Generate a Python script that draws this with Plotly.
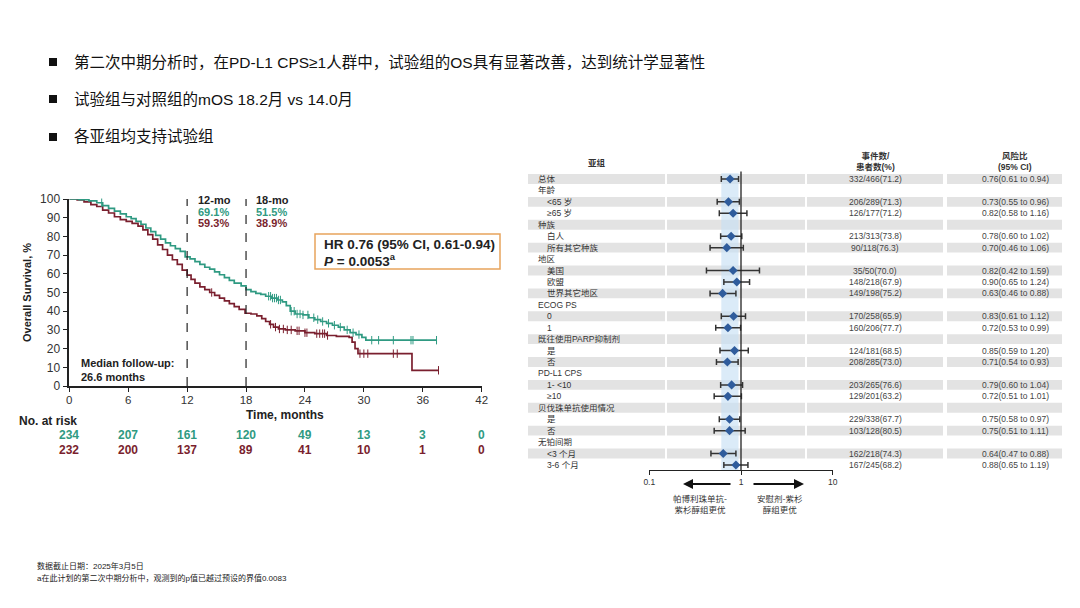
import numpy as np
import plotly.graph_objects as go

# page has an 8px body margin: figure is sized to fit the 1080x608 window exactly
OFF = 8
W, H = 1080 - 2 * OFF, 608 - 2 * OFF
def px(x): return (x - OFF) / W
def py(y): return 1 - (y - OFF) / H

# ---------------- KM data ----------------
green_t = [0, 1.0, 2.0, 2.8, 3.4, 4.0, 4.6, 5.2, 5.8, 6.3, 6.8, 7.3, 7.8, 8.3, 8.8, 9.3, 9.8, 10.3, 10.8, 11.3,
           11.8, 12.3, 12.8, 13.3, 13.8, 14.3, 14.8, 15.3, 15.8, 16.3, 16.8, 17.5, 18.0, 18.5, 19.0, 19.5, 20.0,
           20.6, 21.2, 21.7, 22.1, 22.5, 23.0, 23.8, 24.4, 25.0, 25.6, 26.2, 26.8, 27.4, 28.0, 28.6, 29.2, 29.8,
           30.2, 37.4]
green_s = [100, 99.6, 99, 98, 96.5, 95, 93.5, 92, 90.5, 89.5, 88, 86.5, 84.5, 82.5, 80.5, 78.5, 76.5, 75, 73.5, 72,
           69.1, 68, 66.5, 65, 63.5, 62.5, 61, 59.5, 58, 56.5, 55, 53.5, 51.5, 50.5, 49.5, 49, 48, 47, 46, 45, 43,
           40, 38.5, 38, 36.5, 35.5, 34.5, 33.5, 32.5, 31.5, 30, 28.5, 27.5, 26, 24.5, 24.5]
red_t = [0, 0.8, 1.5, 2.2, 2.8, 3.4, 4.0, 4.6, 5.2, 5.8, 6.4, 7.0, 7.5, 8.0, 8.5, 9.0, 9.5, 10.0, 10.5, 11.0, 11.5,
         12.0, 12.4, 12.8, 13.3, 13.8, 14.3, 14.8, 15.3, 15.8, 16.3, 16.8, 17.3, 17.9, 18.5, 19.1, 19.6, 20.0, 20.4,
         20.8, 21.3, 22.0, 23.0, 24.0, 25.0, 26.2, 27.2, 28.5, 28.8, 29.1, 29.4, 34.9, 37.6]
red_s = [100, 99.5, 98.5, 97, 96, 94, 92.5, 90.5, 89, 88, 87, 85.5, 83.5, 81, 78.5, 75.5, 73, 70, 67.5, 65, 62,
         59.3, 57, 55, 53, 51.5, 50, 48.5, 47, 45.5, 44, 42.5, 41, 38.9, 38.5, 37.5, 36, 34.5, 33, 31.5, 30.5, 30,
         29.5, 28.5, 28, 27, 26.5, 26, 23.5, 20, 17.3, 8.4, 8.4]
green_cens = [3.3, 20.3, 20.5, 20.7, 20.9, 21.1, 21.3, 21.5, 22.6, 22.9, 23.2, 23.5, 23.8, 24.3, 24.9, 25.3, 25.8,
              26.4, 27.0, 27.6, 28.3, 28.9, 29.5, 30.8, 31.5, 33.0, 34.8, 35.0, 37.4]
red_cens = [14.5, 20.5, 21.0, 21.4, 21.8, 22.2, 22.6, 23.2, 23.4, 24.0, 24.2, 25.2, 25.5, 25.8, 26.0, 26.3, 29.6,
            30.0, 30.4, 33.0, 33.4, 37.6]
risk_times = [0, 6, 12, 18, 24, 30, 36, 42]
risk_green = [234, 207, 161, 120, 49, 13, 3, 0]
risk_red = [232, 200, 137, 89, 41, 10, 1, 0]

# ---------------- Forest data ----------------
sub_labels = ["总体", "年龄", "<65 岁", "≥65 岁", "种族", "白人", "所有其它种族", "地区", "美国", "欧盟",
              "世界其它地区", "ECOG PS", "0", "1", "既往使用PARP抑制剂", "是", "否", "PD-L1 CPS", "1- <10", "≥10",
              "贝伐珠单抗使用情况", "是", "否", "无铂间期", "<3 个月", "3-6 个月"]
sub_indent = [0, 0, 1, 1, 0, 1, 1, 0, 1, 1, 1, 0, 1, 1, 0, 1, 1, 0, 1, 1, 0, 1, 1, 0, 1, 1]
hr = [0.76, None, 0.73, 0.82, None, 0.78, 0.70, None, 0.82, 0.90, 0.63, None, 0.83, 0.72, None, 0.85, 0.71, None,
      0.79, 0.72, None, 0.75, 0.75, None, 0.64, 0.88]
lo = [0.61, None, 0.55, 0.58, None, 0.60, 0.46, None, 0.42, 0.65, 0.46, None, 0.61, 0.53, None, 0.59, 0.54, None,
      0.60, 0.51, None, 0.58, 0.51, None, 0.47, 0.65]
hi = [0.94, None, 0.96, 1.16, None, 1.02, 1.06, None, 1.59, 1.24, 0.88, None, 1.12, 0.99, None, 1.20, 0.93, None,
      1.04, 1.01, None, 0.97, 1.11, None, 0.88, 1.19]
events = ["332/466(71.2)", "", "206/289(71.3)", "126/177(71.2)", "", "213/313(73.8)", "90/118(76.3)", "",
          "35/50(70.0)", "148/218(67.9)", "149/198(75.2)", "", "170/258(65.9)", "160/206(77.7)", "",
          "124/181(68.5)", "208/285(73.0)", "", "203/265(76.6)", "129/201(63.2)", "", "229/338(67.7)",
          "103/128(80.5)", "", "162/218(74.3)", "167/245(68.2)"]
hr_text = ["0.76(0.61 to 0.94)", "", "0.73(0.55 to 0.96)", "0.82(0.58 to 1.16)", "", "0.78(0.60 to 1.02)",
           "0.70(0.46 to 1.06)", "", "0.82(0.42 to 1.59)", "0.90(0.65 to 1.24)", "0.63(0.46 to 0.88)", "",
           "0.83(0.61 to 1.12)", "0.72(0.53 to 0.99)", "", "0.85(0.59 to 1.20)", "0.71(0.54 to 0.93)", "",
           "0.79(0.60 to 1.04)", "0.72(0.51 to 1.01)", "", "0.75(0.58 to 0.97)", "0.75(0.51 to 1.11)", "",
           "0.64(0.47 to 0.88)", "0.88(0.65 to 1.19)"]

bullets = ["第二次中期分析时，在PD-L1 CPS≥1人群中，试验组的OS具有显著改善，达到统计学显著性",
           "试验组与对照组的mOS 18.2月 vs 14.0月",
           "各亚组均支持试验组"]
footnotes = ["数据截止日期：2025年3月5日", "a在此计划的第二次中期分析中，观测到的p值已越过预设的界值0.0083"]

GREEN = "#2f9a82"
RED = "#7a1f2e"
FONT = "Liberation Sans, Noto Sans CJK SC, sans-serif"
CJK = "Noto Sans CJK SC, Liberation Sans, sans-serif"

def step_at(ts, ss, t):
    i = np.searchsorted(np.array(ts), t, side="right") - 1
    return ss[max(i, 0)]

fig = go.Figure()

# KM curves
fig.add_trace(go.Scatter(x=red_t, y=red_s, mode="lines", line=dict(color=RED, width=1.7, shape="hv"),
                         xaxis="x", yaxis="y", cliponaxis=False, hoverinfo="skip"))
fig.add_trace(go.Scatter(x=green_t, y=green_s, mode="lines", line=dict(color=GREEN, width=1.7, shape="hv"),
                         xaxis="x", yaxis="y", cliponaxis=False, hoverinfo="skip"))
fig.add_trace(go.Scatter(x=red_cens, y=[step_at(red_t, red_s, t) for t in red_cens], mode="markers",
                         marker=dict(symbol="line-ns", size=6, line=dict(color=RED, width=1)),
                         xaxis="x", yaxis="y", cliponaxis=False, hoverinfo="skip"))
fig.add_trace(go.Scatter(x=green_cens, y=[step_at(green_t, green_s, t) for t in green_cens], mode="markers",
                         marker=dict(symbol="line-ns", size=6, line=dict(color=GREEN, width=1)),
                         xaxis="x", yaxis="y", cliponaxis=False, hoverinfo="skip"))

# Forest points
rows = list(range(len(sub_labels)))
fr = [r for r in rows if hr[r] is not None]
fig.add_trace(go.Scatter(
    x=[hr[r] for r in fr], y=fr, mode="markers",
    marker=dict(symbol="diamond", size=7, color="#2f5c9c"),
    error_x=dict(type="data", symmetric=False,
                 array=[hi[r] - hr[r] for r in fr], arrayminus=[hr[r] - lo[r] for r in fr],
                 color="#333333", thickness=1.5, width=3),
    xaxis="x2", yaxis="y2", hoverinfo="skip"))

shapes = []
ann = []

def A(**kw):
    kw.setdefault("showarrow", False)
    kw.setdefault("xanchor", "center")
    kw.setdefault("yanchor", "middle")
    ann.append(kw)

# Forest gray bands
for r in rows:
    if r % 2 == 0:
        for a, b in [(528, 665), (667, 805), (807, 943), (947, 1062)]:
            shapes.append(dict(type="rect", xref="paper", yref="y2", x0=px(a), x1=px(b), y0=r - 0.43, y1=r + 0.43,
                               fillcolor="#e3e3e3", line=dict(width=0), layer="below"))
# overall CI band
shapes.append(dict(type="rect", xref="x2", yref="y2", x0=lo[0], x1=hi[0], y0=-0.5, y1=25.44,
                   fillcolor="rgba(200,225,245,0.65)", line=dict(width=0), layer="below"))
# line at 1
shapes.append(dict(type="line", xref="x2", yref="y2", x0=1, x1=1, y0=-0.65, y1=25.44,
                   line=dict(color="#222222", width=1.3)))

for r in rows:
    A(x=px(536 + 9 * sub_indent[r]), y=r, xref="paper", yref="y2", text=sub_labels[r], xanchor="left",
      font=dict(size=8.5, color="#333333", family=FONT))
    if events[r]:
        A(x=px(875), y=r, xref="paper", yref="y2", text=events[r], font=dict(size=8.5, color="#444444", family=FONT))
        A(x=px(1015), y=r, xref="paper", yref="y2", text=hr_text[r], font=dict(size=8.5, color="#444444", family=FONT))
A(x=px(597), y=py(162), xref="paper", yref="paper", text="<b>亚组</b>", font=dict(size=8.5, color="#333333", family=CJK))
A(x=px(875), y=py(162), xref="paper", yref="paper", text="<b>事件数/<br>患者数(%)</b>",
  font=dict(size=8.5, color="#333333", family=FONT))
A(x=px(1015), y=py(162), xref="paper", yref="paper", text="<b>风险比<br>(95% CI)</b>",
  font=dict(size=8.5, color="#333333", family=FONT))
# arrows
A(x=px(683), y=py(484), xref="paper", yref="paper", ax=49, ay=0, text="", showarrow=True,
  arrowhead=2, arrowsize=1, arrowwidth=2, arrowcolor="#111111")
A(x=px(804), y=py(484), xref="paper", yref="paper", ax=-52, ay=0, text="", showarrow=True,
  arrowhead=2, arrowsize=1, arrowwidth=2, arrowcolor="#111111")
A(x=px(700), y=py(503), xref="paper", yref="paper", text="帕博利珠单抗-<br>紫杉醇组更优",
  font=dict(size=8.5, color="#333333", family=CJK))
A(x=px(780), y=py(503), xref="paper", yref="paper", text="安慰剂-紫杉<br>醇组更优",
  font=dict(size=8.5, color="#333333", family=CJK))

# KM annotations
for xv in [12, 18]:
    shapes.append(dict(type="line", xref="x", yref="y", x0=xv, x1=xv, y0=0, y1=103,
                       line=dict(color="#222222", width=1.2, dash="dash")))
for xpx, lab, g, r_ in [(196, "12-mo", "69.1%", "59.3%"), (254, "18-mo", "51.5%", "38.9%")]:
    A(x=px(xpx), y=py(200), xref="paper", yref="paper", text="<b>" + lab + "</b>", xanchor="left",
      font=dict(size=11, color="#222222", family=FONT))
    A(x=px(xpx), y=py(211.5), xref="paper", yref="paper", text="<b>" + g + "</b>", xanchor="left",
      font=dict(size=11, color=GREEN, family=FONT))
    A(x=px(xpx), y=py(222.5), xref="paper", yref="paper", text="<b>" + r_ + "</b>", xanchor="left",
      font=dict(size=11, color=RED, family=FONT))

# HR box
shapes.append(dict(type="rect", xref="paper", yref="paper", x0=px(315), x1=px(500), y0=py(269), y1=py(234),
                   line=dict(color="#e8a45c", width=1.5), fillcolor="rgba(0,0,0,0)"))
A(x=px(322), y=py(244), xref="paper", yref="paper", text="<b>HR 0.76 (95% CI, 0.61-0.94)</b>", xanchor="left",
  font=dict(size=13.5, color="#222222", family=FONT))
A(x=px(322), y=py(260), xref="paper", yref="paper", text="<b><i>P</i> = 0.0053<sup>a</sup></b>", xanchor="left",
  font=dict(size=13.5, color="#222222", family=FONT))
A(x=px(79), y=py(370), xref="paper", yref="paper", text="<b>Median follow-up:<br>26.6 months</b>",
  xanchor="left", align="left", font=dict(size=11, color="#222222", family=FONT))

A(x=px(285), y=py(415), xref="paper", yref="paper", text="<b>Time, months</b>",
  font=dict(size=12, color="#222222", family=FONT))
A(x=px(17), y=py(421), xref="paper", yref="paper", text="<b>No. at risk</b>", xanchor="left",
  font=dict(size=12, color="#222222", family=FONT))
for t, g, r_ in zip(risk_times, risk_green, risk_red):
    A(x=t, y=py(435), xref="x", yref="paper", text="<b>%d</b>" % g, font=dict(size=12, color=GREEN, family=FONT))
    A(x=t, y=py(450), xref="x", yref="paper", text="<b>%d</b>" % r_, font=dict(size=12, color=RED, family=FONT))

# bullets
for txt, yy in zip(bullets, [62, 99, 137]):
    shapes.append(dict(type="rect", xref="paper", yref="paper", x0=px(49), x1=px(57), y0=py(yy + 4), y1=py(yy - 4),
                       fillcolor="#111111", line=dict(width=0)))
    A(x=px(72), y=py(yy), xref="paper", yref="paper", text=txt, xanchor="left",
      font=dict(size=15.5, color="#111111", family=FONT))
for txt, yy in zip(footnotes, [566, 578]):
    A(x=px(35), y=py(yy), xref="paper", yref="paper", text=txt, xanchor="left",
      font=dict(size=8, color="#222222", family=FONT))

fig.update_layout(
    width=W, height=H, margin=dict(l=0, r=0, t=0, b=0, autoexpand=False), paper_bgcolor="white",
    plot_bgcolor="rgba(0,0,0,0)", showlegend=False, font=dict(family=FONT, color="#222222"),
    xaxis=dict(domain=[px(69.3), px(481.7)], range=[0, 42], tickvals=risk_times, showline=True, linecolor="#222222",
               linewidth=1.5, ticks="outside", ticklen=4, tickcolor="#222222", showgrid=False, zeroline=False,
               tickfont=dict(size=11.5, color="#333333"), anchor="y", automargin=False, ticklabelstandoff=-2),
    yaxis=dict(domain=[py(386), py(199)], range=[0, 100], tickvals=list(range(0, 101, 10)), showline=True,
               linecolor="#222222", linewidth=1.5, ticks="outside", ticklen=5, tickcolor="#222222", showgrid=False,
               zeroline=False, tickfont=dict(size=12, color="#333333"), anchor="x", automargin=False,
               title=dict(text="<b>Overall Survival, %</b>", font=dict(size=11, color="#222222"), standoff=6)),
    xaxis2=dict(domain=[px(649.3), px(832.7)], type="log", range=[-1, 1], tickvals=[0.1, 1, 10],
                ticktext=["0.1", "1", "10"], showline=True, linecolor="#222222", linewidth=1.2, ticks="outside",
                ticklen=4, tickcolor="#222222", showgrid=False, zeroline=False, automargin=False,
                tickfont=dict(size=8.5, color="#333333"), anchor="y2"),
    yaxis2=dict(domain=[py(470), py(150)], range=[25.44, -2.535], visible=False, anchor="x2", automargin=False),
    shapes=shapes, annotations=ann,
)
fig.write_html("out.html")
